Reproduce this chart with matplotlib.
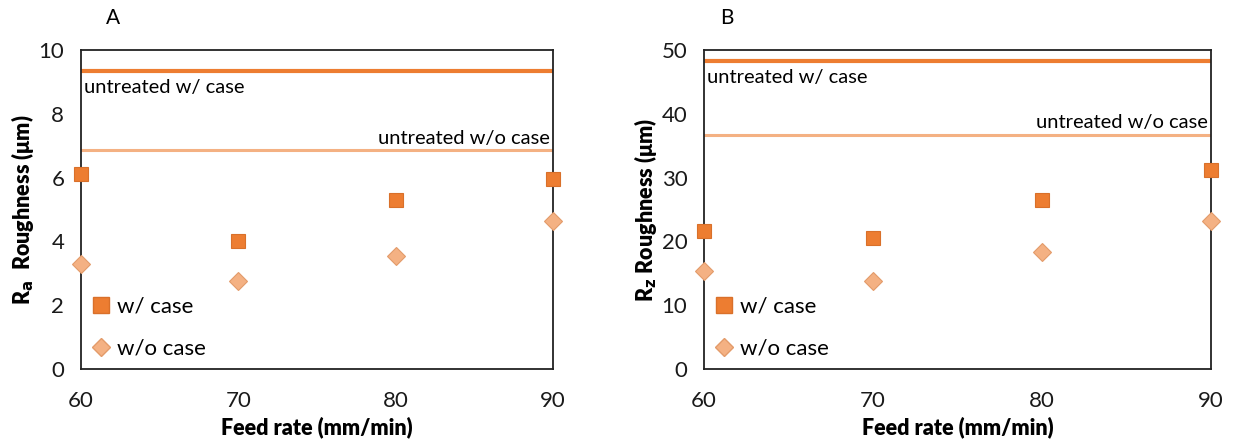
import matplotlib.pyplot as plt
from matplotlib.lines import Line2D

plt.rcParams['font.family'] = ['Lato', 'DejaVu Sans']

feed = [60, 70, 80, 90]

# panel A : Ra
ra_case = [6.1, 4.0, 5.3, 5.95]
ra_nocase = [3.3, 2.75, 3.55, 4.65]
ra_untreated_case = 9.35
ra_untreated_nocase = 6.85

# panel B : Rz
rz_case = [21.7, 20.6, 26.5, 31.2]
rz_nocase = [15.4, 13.8, 18.3, 23.2]
rz_untreated_case = 48.2
rz_untreated_nocase = 36.7

dark = '#ED7D31'
light = '#F4B183'

fig = plt.figure(figsize=(12.33, 4.48), dpi=100)
axA = fig.add_axes([81/1233, 1-369/448, (553-81)/1233, (369-50)/448])
axB = fig.add_axes([704/1233, 1-369/448, (1211-704)/1233, (369-50)/448])


def panel(ax, case, nocase, un_case, un_nocase, ymax, step, ylab, letter, lx):
    ax.axhline(un_case, color=dark, lw=3, zorder=1)
    ax.axhline(un_nocase, color=light, lw=2.2, zorder=1)
    ax.plot(feed, case, ls='none', marker='s', ms=10, color=dark,
            mec='#D9702A', mew=0.8, clip_on=False, zorder=3)
    ax.plot(feed, nocase, ls='none', marker='D', ms=9.5, color=light,
            mec='#E39B6A', mew=0.8, clip_on=False, zorder=3)
    ax.set_xlim(60, 90)
    ax.set_ylim(0, ymax)
    ax.set_xticks(feed)
    ax.set_yticks(range(0, ymax + 1, step))
    ax.tick_params(length=0, labelsize=16, pad=12, colors='#1a1a1a')
    ax.tick_params(axis='x', pad=16)
    for s in ax.spines.values():
        s.set_linewidth(1.3)
        s.set_color('#222222')
    ax.set_xlabel('Feed rate (mm/min)', fontsize=15.5, fontweight='heavy', labelpad=4)
    ax.set_ylabel(ylab, fontsize=15.5, fontweight='heavy', labelpad=2)
    ax.text(60.2, un_case - ymax * 0.025, 'untreated w/ case', fontsize=14.5,
            ha='left', va='top')
    ax.text(89.8, un_nocase + ymax * 0.012, 'untreated w/o case', fontsize=14.5,
            ha='right', va='bottom')
    handles = [
        Line2D([], [], ls='none', marker='s', ms=11, color=dark, mec='#D9702A'),
        Line2D([], [], ls='none', marker='D', ms=9, color=light, mec='#E39B6A'),
    ]
    ax.legend(handles, ['w/ case', 'w/o case'], loc='lower left',
              bbox_to_anchor=(0.005, 0.004), frameon=False, fontsize=16,
              handlelength=0.8, handletextpad=0.3, labelspacing=1.0,
              borderaxespad=0.0)
    fig.text(lx, 1 - 18/448, letter, fontsize=15, ha='center', va='center')


panel(axA, ra_case, ra_nocase, ra_untreated_case, ra_untreated_nocase,
      10, 2, r'R$_\mathbf{a}$  Roughness (μm)', 'A', 113/1233)
panel(axB, rz_case, rz_nocase, rz_untreated_case, rz_untreated_nocase,
      50, 10, r'R$_\mathbf{z}$ Roughness (μm)', 'B', 727/1233)

fig.savefig('out.png', dpi=100)
